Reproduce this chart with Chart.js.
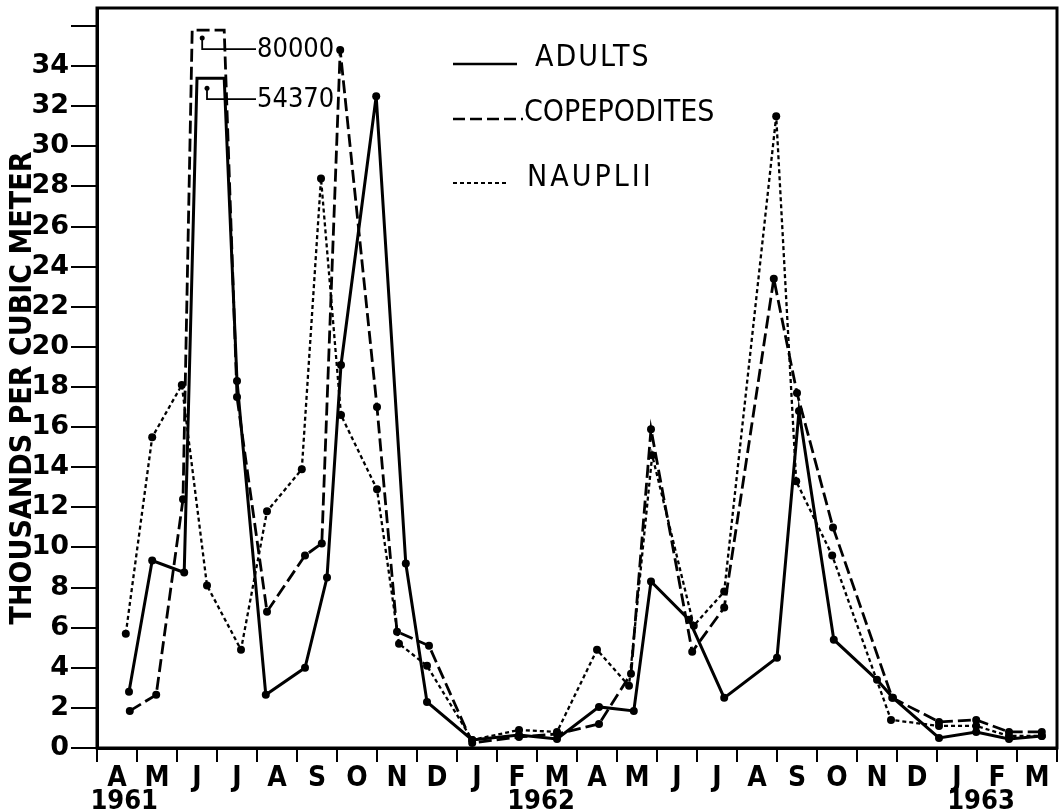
<!DOCTYPE html>
<html>
<head>
<meta charset="utf-8">
<title>Copepod stages 1961-1963</title>
<script src="https://cdn.jsdelivr.net/npm/chart.js@4"></script>
<style>
  html, body { margin: 0; padding: 0; background: #fff; }
</style>
</head>
<body>
<canvas id="chart" width="1061" height="810"></canvas>
<script>
// month strip along the bottom, April 1961 .. March 1963
const monthLetters = ['A', 'M', 'J', 'J', 'A', 'S', 'O', 'N', 'D', 'J', 'F', 'M',
                      'A', 'M', 'J', 'J', 'A', 'S', 'O', 'N', 'D', 'J', 'F', 'M'];
const yearLabels = ['1961', '1962', '1963'];
const yearPositions = [0.68, 11.1, 22.1];
const yTicks = [0, 2, 4, 6, 8, 10, 12, 14, 16, 18, 20, 22, 24, 26, 28, 30, 32, 34, 36];

// sampling dates in months since 1 April 1961, counts in thousands per m3
const adultMonths = [0.8, 1.38, 2.18, 2.5, 3.18, 3.5, 4.22, 5.2, 5.75, 6.1, 6.98, 7.72, 8.25,
                     9.38, 10.55, 11.5, 12.55, 13.42, 13.85, 14.8, 15.68, 17.0, 17.55, 18.42,
                     19.5, 19.9, 21.05, 21.98, 22.8, 23.62];
const adultValues = [2.8, 9.35, 8.75, 33.4, 33.4, 18.3, 2.65, 4.0, 8.5, 19.1, 32.5, 9.2, 2.3,
                     0.4, 0.65, 0.45, 2.05, 1.85, 8.3, 6.4, 2.5, 4.5, 16.8, 5.4,
                     3.4, 2.5, 0.5, 0.8, 0.45, 0.6];

const copepoditeMonths = [0.82, 1.48, 2.15, 2.38, 3.18, 3.5, 4.25, 5.2, 5.62, 6.08, 7.0, 7.5, 8.3,
                          9.38, 10.55, 11.5, 12.55, 13.35, 13.85, 14.88, 15.68, 16.92, 17.5, 18.4,
                          19.88, 21.05, 21.98, 22.8, 23.62];
const copepoditeValues = [1.85, 2.65, 12.4, 35.8, 35.8, 17.5, 6.8, 9.6, 10.2, 34.8, 17.0, 5.8, 5.1,
                          0.25, 0.55, 0.7, 1.2, 3.7, 15.9, 4.8, 7.0, 23.4, 17.7, 11.0,
                          2.5, 1.3, 1.4, 0.8, 0.8];

const naupliiMonths = [0.72, 1.38, 2.12, 2.75, 3.6, 4.25, 5.12, 5.6, 6.1, 7.0, 7.55, 8.25,
                       9.38, 10.55, 11.5, 12.5, 13.3, 13.88, 14.92, 15.68, 16.98, 17.48, 18.38,
                       19.85, 21.05, 21.98, 22.8, 23.62];
const naupliiValues = [5.7, 15.5, 18.1, 8.1, 4.9, 11.8, 13.9, 28.4, 16.6, 12.9, 5.2, 4.1,
                       0.4, 0.9, 0.8, 4.9, 3.1, 14.6, 6.1, 7.8, 31.5, 13.3, 9.6,
                       1.4, 1.1, 1.1, 0.6, 0.6];

// June 1961 peaks run off the scale: line is capped, true count written beside it
const adultCap = 33.4;
const copepoditeCap = 35.8;
const peakCounts = [80000, 54370];
const peakMonths = [2.63, 2.75];
const peakMarks = [35.4, 32.9];

function toPoints(months, values) {
    return months.map((m, i) => ({ x: m, y: values[i] }));
}

function capRadius(cap) {
    return ctx => (ctx.raw && ctx.raw.y >= cap ? 0 : 4);
}

const condensed = '"DejaVu Sans Condensed", "DejaVu Sans", sans-serif';
const narrow = '"Liberation Sans Narrow", "DejaVu Sans Condensed", sans-serif';

const decorations = {
    id: 'decorations',
    afterDraw(chart) {
        const { ctx, chartArea: a, scales: { x, y } } = chart;
        ctx.save();
        ctx.strokeStyle = '#000';
        ctx.fillStyle = '#000';

        // frame round the plot
        ctx.lineWidth = 3;
        ctx.strokeRect(a.left, a.top, a.right - a.left, a.bottom - a.top);

        // off-scale peak markers with leaders
        ctx.font = '27px ' + condensed;
        ctx.textBaseline = 'middle';
        ctx.textAlign = 'left';
        peakMonths.forEach((m, i) => {
            const px = x.getPixelForValue(m);
            const py = y.getPixelForValue(peakMarks[i]);
            ctx.beginPath();
            ctx.arc(px, py, 2.5, 0, Math.PI * 2);
            ctx.fill();
            ctx.lineWidth = 1.8;
            ctx.beginPath();
            ctx.moveTo(px, py);
            ctx.lineTo(px, py + 11);
            ctx.lineTo(256, py + 11);
            ctx.stroke();
            ctx.fillText(String(peakCounts[i]), 257, py + 12);
        });

        // legend
        ctx.font = '30px ' + condensed;
        ctx.textBaseline = 'alphabetic';
        ctx.lineWidth = 2.5;
        ctx.beginPath();
        ctx.moveTo(453, 64);
        ctx.lineTo(517, 64);
        ctx.stroke();
        ctx.letterSpacing = '2px';
        ctx.fillText('ADULTS', 535, 66);
        ctx.letterSpacing = '0px';

        ctx.setLineDash([12, 5]);
        ctx.beginPath();
        ctx.moveTo(453, 119);
        ctx.lineTo(523, 119);
        ctx.stroke();
        ctx.setLineDash([]);
        ctx.fillText('COPEPODITES', 524, 121);

        ctx.lineWidth = 2;
        ctx.setLineDash([4, 3]);
        ctx.beginPath();
        ctx.moveTo(453, 183);
        ctx.lineTo(508, 183);
        ctx.stroke();
        ctx.setLineDash([]);
        ctx.letterSpacing = '3px';
        ctx.fillText('NAUPLII', 527, 186);
        ctx.letterSpacing = '0px';

        // years under the month strip
        ctx.font = 'bold 27px ' + narrow;
        ctx.textAlign = 'center';
        yearLabels.forEach((t, i) => {
            ctx.fillText(t, x.getPixelForValue(yearPositions[i]), 809);
        });

        // y axis title
        ctx.translate(23, 388);
        ctx.rotate(-Math.PI / 2);
        ctx.font = 'bold 30px ' + condensed;
        ctx.textBaseline = 'middle';
        ctx.fillText('THOUSANDS PER CUBIC METER', 0, 0);
        ctx.restore();
    }
};

new Chart(document.getElementById('chart'), {
    type: 'line',
    data: {
        datasets: [
            {
                label: 'ADULTS',
                data: toPoints(adultMonths, adultValues),
                borderColor: '#000',
                borderWidth: 3,
                pointRadius: capRadius(adultCap),
                pointBackgroundColor: '#000',
                pointBorderWidth: 0
            },
            {
                label: 'COPEPODITES',
                data: toPoints(copepoditeMonths, copepoditeValues),
                borderColor: '#000',
                borderWidth: 2.8,
                borderDash: [13, 5],
                pointRadius: capRadius(copepoditeCap),
                pointBackgroundColor: '#000',
                pointBorderWidth: 0
            },
            {
                label: 'NAUPLII',
                data: toPoints(naupliiMonths, naupliiValues),
                borderColor: '#000',
                borderWidth: 2.3,
                borderDash: [4, 3],
                pointRadius: 4,
                pointBackgroundColor: '#000',
                pointBorderWidth: 0
            }
        ]
    },
    options: {
        responsive: false,
        animation: false,
        layout: { padding: { top: 8, right: 3, left: 0, bottom: 0 } },
        plugins: {
            legend: { display: false },
            tooltip: { enabled: false }
        },
        scales: {
            x: {
                type: 'linear',
                min: 0,
                max: 24,
                afterBuildTicks: s => { s.ticks = monthLetters.map((_, i) => ({ value: i + 0.5 })); },
                afterFit: s => { s.height = 62; s.paddingLeft = 0; s.paddingRight = 0; },
                ticks: {
                    callback: (v, i) => monthLetters[i],
                    autoSkip: false,
                    maxRotation: 0,
                    color: '#000',
                    padding: 0,
                    font: { family: '"DejaVu Sans Condensed", "DejaVu Sans", sans-serif', size: 28, weight: 'bold' }
                },
                grid: { offset: true, drawOnChartArea: false, tickLength: 14, color: '#000', lineWidth: 2 },
                border: { color: '#000', width: 3 }
            },
            y: {
                min: 0,
                max: 36.9,
                afterBuildTicks: s => { s.ticks = yTicks.map(v => ({ value: v })); },
                afterFit: s => { s.width = 97; s.paddingTop = 0; s.paddingBottom = 0; },
                ticks: {
                    callback: v => (v === 36 ? '' : v),
                    color: '#000',
                    padding: 2,
                    font: { family: '"DejaVu Sans", sans-serif', size: 27, weight: 'bold' }
                },
                grid: { drawOnChartArea: false, tickLength: 26, color: '#000', lineWidth: 2 },
                border: { color: '#000', width: 3 }
            }
        }
    },
    plugins: [decorations]
});
</script>
</body>
</html>
